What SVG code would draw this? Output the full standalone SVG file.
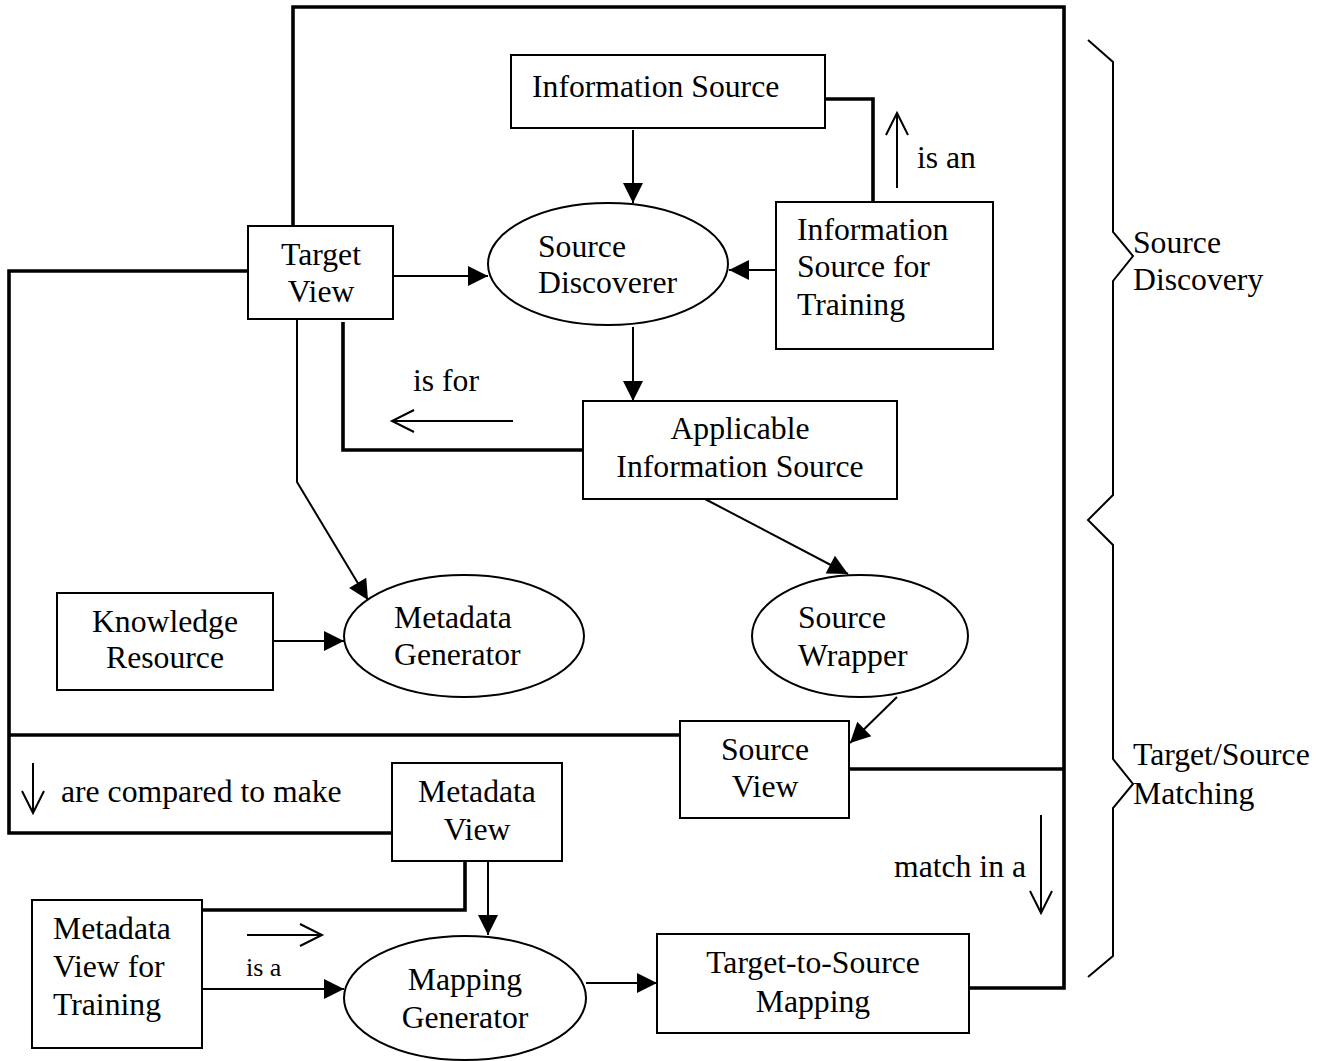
<svg xmlns="http://www.w3.org/2000/svg" width="1326" height="1061" viewBox="0 0 1326 1061">
  <style>
    .box { fill: #fff; stroke: #000; stroke-width: 2; }
    .oval { fill: #fff; stroke: #000; stroke-width: 2; }
    text { font-family: "Liberation Serif", "Times New Roman", serif; font-size: 31.7px; fill: #000; }
    .mid { text-anchor: middle; }
    .small { font-size: 26px; }
    .thin { fill: none; stroke: #000; stroke-width: 2; }
    .thick { fill: none; stroke: #000; stroke-width: 3.6; }
    .flow { fill: none; stroke: #000; stroke-width: 2; marker-end: url(#solid); }
    .hint { fill: none; stroke: #000; stroke-width: 2; marker-end: url(#open); }
  </style>
  <defs>
    <marker id="solid" markerUnits="userSpaceOnUse" markerWidth="22" markerHeight="22" refX="20" refY="10" orient="auto" overflow="visible">
      <path d="M0,0 L20,10 L0,20 Z" fill="#000"/>
    </marker>
    <marker id="open" markerUnits="userSpaceOnUse" markerWidth="24" markerHeight="24" refX="22" refY="11" orient="auto" overflow="visible">
      <path d="M0,0 L22,11 L0,22" fill="none" stroke="#000" stroke-width="2"/>
    </marker>
  </defs>

  <rect width="1326" height="1061" fill="#fff"/>

  <!-- connectors -->
  <g id="connectors">
    <!-- heavy association lines -->
    <path class="thick" d="M293,226 L293,7 L1064,7 L1064,988 L969,988"/>
    <path class="thick" d="M825,99 L873,99 L873,202"/>
    <path class="thick" d="M248,271 L9,271 L9,833 L392,833"/>
    <path class="thick" d="M9,735 L680,735"/>
    <path class="thick" d="M849,769 L1064,769"/>
    <path class="thick" d="M583,450 L343,450 L343,322"/>
    <path class="thick" d="M465,861 L465,910 L202,910"/>

    <!-- data flow arrows -->
    <path class="flow" d="M633,130 L633,203"/>
    <path class="flow" d="M393,276 L488,276"/>
    <path class="flow" d="M776,270 L729,270"/>
    <path class="flow" d="M633,327 L633,401"/>
    <path class="flow" d="M297,319 L297,482 L368,600"/>
    <path class="flow" d="M273,641 L344,641"/>
    <path class="flow" d="M705,499 L848,574"/>
    <path class="flow" d="M897,697 L850,743"/>
    <path class="flow" d="M488,861 L488,935"/>
    <path class="flow" d="M202,989 L344,989"/>
    <path class="flow" d="M586,983 L657,983"/>

    <!-- relation hint arrows -->
    <path class="hint" d="M897,188 L897,113"/>
    <path class="hint" d="M513,421 L392,421"/>
    <path class="hint" d="M33,763 L33,813"/>
    <path class="hint" d="M247,935 L322,935"/>
    <path class="hint" d="M1041,815 L1041,913"/>
  </g>

  <!-- nodes -->
  <g id="information-source">
    <rect class="box" x="511" y="55" width="314" height="73"/>
    <text x="532" y="97">Information Source</text>
  </g>
  <g id="target-view">
    <rect class="box" x="248" y="226" width="145" height="93"/>
    <text class="mid" x="321" y="265">Target</text>
    <text class="mid" x="321" y="302">View</text>
  </g>
  <g id="source-discoverer">
    <ellipse class="oval" cx="608" cy="264" rx="120" ry="61"/>
    <text x="538" y="257">Source</text>
    <text x="538" y="293">Discoverer</text>
  </g>
  <g id="information-source-for-training">
    <rect class="box" x="776" y="202" width="217" height="147"/>
    <text x="797" y="240">Information</text>
    <text x="797" y="277">Source for</text>
    <text x="797" y="315">Training</text>
  </g>
  <g id="applicable-information-source">
    <rect class="box" x="583" y="401" width="314" height="98"/>
    <text class="mid" x="740" y="439">Applicable</text>
    <text class="mid" x="740" y="477">Information Source</text>
  </g>
  <g id="knowledge-resource">
    <rect class="box" x="57" y="593" width="216" height="97"/>
    <text class="mid" x="165" y="632">Knowledge</text>
    <text class="mid" x="165" y="668">Resource</text>
  </g>
  <g id="metadata-generator">
    <ellipse class="oval" cx="464" cy="636" rx="120" ry="61"/>
    <text x="394" y="628">Metadata</text>
    <text x="394" y="665">Generator</text>
  </g>
  <g id="source-wrapper">
    <ellipse class="oval" cx="860" cy="636" rx="108" ry="61"/>
    <text x="798" y="628">Source</text>
    <text x="798" y="666">Wrapper</text>
  </g>
  <g id="source-view">
    <rect class="box" x="680" y="721" width="169" height="97"/>
    <text class="mid" x="765" y="760">Source</text>
    <text class="mid" x="765" y="797">View</text>
  </g>
  <g id="metadata-view">
    <rect class="box" x="392" y="763" width="170" height="98"/>
    <text class="mid" x="477" y="802">Metadata</text>
    <text class="mid" x="477" y="840">View</text>
  </g>
  <g id="metadata-view-for-training">
    <rect class="box" x="32" y="900" width="170" height="148"/>
    <text x="53" y="939">Metadata</text>
    <text x="53" y="977">View for</text>
    <text x="53" y="1015">Training</text>
  </g>
  <g id="mapping-generator">
    <ellipse class="oval" cx="465" cy="998" rx="121" ry="62"/>
    <text class="mid" x="465" y="990">Mapping</text>
    <text class="mid" x="465" y="1028">Generator</text>
  </g>
  <g id="target-to-source-mapping">
    <rect class="box" x="657" y="934" width="312" height="99"/>
    <text class="mid" x="813" y="973">Target-to-Source</text>
    <text class="mid" x="813" y="1012">Mapping</text>
  </g>

  <!-- relation labels -->
  <g id="labels">
    <text x="917" y="168">is an</text>
    <text x="413" y="391">is for</text>
    <text x="61" y="802">are compared to make</text>
    <text class="small" x="246" y="976">is a</text>
    <text x="894" y="877">match in a</text>
  </g>

  <!-- phase brace -->
  <g id="phase-brace">
    <path class="thin" d="M1088,40 L1113,62 L1113,232 L1133,256 L1113,281 L1113,495 L1088,520 L1113,545 L1113,759 L1133,784 L1113,808 L1113,956 L1088,977"/>
    <text x="1133" y="253">Source</text>
    <text x="1133" y="290">Discovery</text>
    <text x="1133" y="765">Target/Source</text>
    <text x="1133" y="804">Matching</text>
  </g>
</svg>
